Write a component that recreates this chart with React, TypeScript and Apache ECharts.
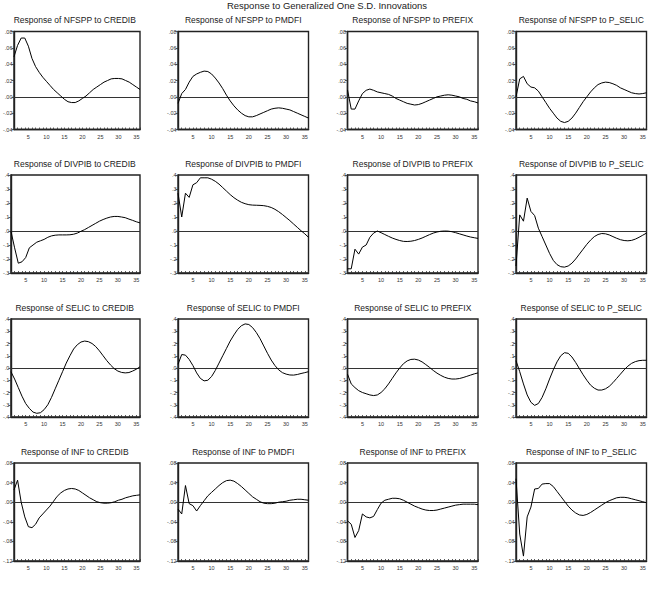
import React, { useEffect, useRef } from "react";
import * as echarts from "echarts";

const periods: number[] = Array.from({ length: 36 }, (_, i) => i + 1);

const responseVars = ["NFSPP", "DIVPIB", "SELIC", "INF"];
const shockVars = ["CREDIB", "PMDFI", "PREFIX", "P_SELIC"];

const mainTitle = "Response to Generalized One S.D. Innovations";

// y-axis ranges per response variable
const yMin = [-0.04, -0.3, -0.4, -0.12];
const yMax = [0.08, 0.4, 0.4, 0.08];
const yStep = [0.02, 0.1, 0.1, 0.04];
const yDecimals = [2, 1, 1, 2];

// Row 1: NFSPP
const nfsppCredib = [0.049, 0.063, 0.072, 0.072, 0.062, 0.047, 0.037, 0.030, 0.024, 0.019, 0.014, 0.009, 0.005, 0.001, -0.003, -0.006, -0.007, -0.007, -0.005, -0.002, 0.001, 0.005, 0.009, 0.012, 0.015, 0.018, 0.020, 0.022, 0.0225, 0.0225, 0.022, 0.020, 0.018, 0.015, 0.012, 0.009];
const nfsppPmdfi = [-0.008, 0.004, 0.009, 0.018, 0.025, 0.028, 0.030, 0.0315, 0.031, 0.028, 0.023, 0.017, 0.010, 0.002, -0.005, -0.011, -0.016, -0.020, -0.023, -0.0245, -0.0245, -0.023, -0.021, -0.019, -0.017, -0.015, -0.014, -0.0135, -0.014, -0.015, -0.016, -0.018, -0.020, -0.022, -0.024, -0.026];
const nfsppPrefix = [0.0085, -0.015, -0.015, -0.005, 0.004, 0.008, 0.0095, 0.008, 0.006, 0.005, 0.004, 0.003, 0.001, -0.002, -0.004, -0.006, -0.008, -0.009, -0.010, -0.0095, -0.008, -0.006, -0.004, -0.002, 0.0, 0.001, 0.002, 0.0025, 0.002, 0.001, 0.0, -0.002, -0.003, -0.005, -0.006, -0.0075];
const nfsppPselic = [0.0, 0.022, 0.025, 0.016, 0.012, 0.011, 0.007, 0.0, -0.007, -0.014, -0.020, -0.026, -0.030, -0.0315, -0.030, -0.026, -0.020, -0.013, -0.006, 0.0, 0.006, 0.011, 0.015, 0.017, 0.018, 0.0175, 0.016, 0.014, 0.011, 0.009, 0.007, 0.005, 0.004, 0.0035, 0.004, 0.005];

// Row 2: DIVPIB
const divpibCredib = [0.0, -0.12, -0.23, -0.22, -0.19, -0.12, -0.10, -0.08, -0.07, -0.06, -0.045, -0.035, -0.03, -0.028, -0.028, -0.028, -0.027, -0.023, -0.015, -0.002, 0.01, 0.025, 0.04, 0.055, 0.07, 0.082, 0.092, 0.1, 0.104, 0.104, 0.1, 0.095, 0.085, 0.076, 0.066, 0.058];
const divpibPmdfi = [0.27, 0.10, 0.27, 0.24, 0.33, 0.345, 0.38, 0.38, 0.38, 0.37, 0.355, 0.335, 0.31, 0.285, 0.26, 0.238, 0.22, 0.205, 0.195, 0.188, 0.185, 0.184, 0.183, 0.181, 0.176, 0.168, 0.155, 0.138, 0.118, 0.096, 0.074, 0.05, 0.026, 0.002, -0.02, -0.045];
const divpibPrefix = [-0.27, -0.27, -0.13, -0.165, -0.115, -0.10, -0.045, -0.015, 0.0, -0.012, -0.025, -0.038, -0.05, -0.06, -0.068, -0.074, -0.075, -0.073, -0.068, -0.06, -0.05, -0.038, -0.026, -0.015, -0.007, -0.002, 0.0, -0.001, -0.005, -0.012, -0.02, -0.028, -0.036, -0.043, -0.048, -0.053];
const divpibPselic = [-0.25, 0.115, 0.07, 0.235, 0.14, 0.11, 0.02, -0.04, -0.10, -0.16, -0.21, -0.24, -0.255, -0.258, -0.25, -0.23, -0.20, -0.165, -0.13, -0.095, -0.065, -0.04, -0.025, -0.018, -0.02, -0.028, -0.04, -0.052, -0.062, -0.068, -0.07, -0.067, -0.058, -0.045, -0.03, -0.015];

// Row 3: SELIC
const selicCredib = [-0.03, -0.09, -0.16, -0.23, -0.29, -0.33, -0.36, -0.37, -0.365, -0.34, -0.30, -0.24, -0.17, -0.10, -0.03, 0.04, 0.10, 0.155, 0.19, 0.212, 0.22, 0.215, 0.2, 0.175, 0.14, 0.1, 0.06, 0.025, -0.005, -0.025, -0.036, -0.04, -0.037, -0.025, -0.01, 0.01];
const selicPmdfi = [0.03, 0.11, 0.105, 0.07, 0.02, -0.04, -0.085, -0.105, -0.1, -0.07, -0.02, 0.04, 0.1, 0.16, 0.22, 0.27, 0.315, 0.345, 0.36, 0.355, 0.33, 0.29, 0.24, 0.18, 0.12, 0.065, 0.02, -0.015, -0.038, -0.05, -0.057, -0.058, -0.053, -0.045, -0.038, -0.03];
const selicPrefix = [-0.05, -0.13, -0.16, -0.185, -0.2, -0.21, -0.22, -0.225, -0.22, -0.2, -0.17, -0.13, -0.085, -0.04, 0.0, 0.035, 0.058, 0.07, 0.072, 0.065, 0.05, 0.028, 0.005, -0.02, -0.042, -0.06, -0.075, -0.085, -0.09, -0.09, -0.086, -0.078, -0.068, -0.058, -0.048, -0.04];
const selicPselic = [0.06, -0.03, -0.13, -0.22, -0.28, -0.305, -0.29, -0.24, -0.17, -0.09, -0.015, 0.05, 0.1, 0.125, 0.12, 0.09, 0.045, -0.005, -0.055, -0.1, -0.14, -0.165, -0.18, -0.18, -0.17, -0.15, -0.12, -0.085, -0.05, -0.015, 0.015, 0.038, 0.052, 0.06, 0.063, 0.063];

// Row 4: INF
const infCredib = [0.025, 0.045, 0.0, -0.03, -0.05, -0.052, -0.045, -0.032, -0.024, -0.016, -0.008, 0.002, 0.012, 0.019, 0.024, 0.027, 0.028, 0.027, 0.024, 0.019, 0.014, 0.009, 0.005, 0.001, -0.001, -0.002, -0.002, -0.001, 0.001, 0.004, 0.006, 0.009, 0.011, 0.013, 0.014, 0.015];
const infPmdfi = [-0.014, -0.024, 0.034, -0.003, -0.007, -0.018, -0.007, 0.003, 0.013, 0.02, 0.027, 0.034, 0.04, 0.044, 0.045, 0.043, 0.038, 0.032, 0.025, 0.018, 0.011, 0.006, 0.001, -0.002, -0.003, -0.003, -0.002, 0.0, 0.001, 0.002, 0.004, 0.005, 0.006, 0.006, 0.005, 0.004];
const infPrefix = [-0.038, -0.045, -0.072, -0.058, -0.024, -0.03, -0.032, -0.029, -0.015, -0.002, 0.004, 0.006, 0.008, 0.008, 0.007, 0.004, 0.0, -0.004, -0.008, -0.011, -0.014, -0.016, -0.017, -0.017, -0.016, -0.014, -0.012, -0.01, -0.008, -0.006, -0.005, -0.004, -0.004, -0.004, -0.004, -0.005];
const infPselic = [0.048, -0.065, -0.11, -0.03, -0.01, 0.027, 0.028, 0.037, 0.038, 0.038, 0.032, 0.022, 0.012, 0.002, -0.008, -0.016, -0.022, -0.026, -0.027, -0.025, -0.021, -0.016, -0.011, -0.006, -0.001, 0.003, 0.006, 0.009, 0.01, 0.01, 0.009, 0.007, 0.005, 0.003, 0.001, -0.001];

const panels: number[][][] = [
  [nfsppCredib, nfsppPmdfi, nfsppPrefix, nfsppPselic],
  [divpibCredib, divpibPmdfi, divpibPrefix, divpibPselic],
  [selicCredib, selicPmdfi, selicPrefix, selicPselic],
  [infCredib, infPmdfi, infPrefix, infPselic],
];

// layout
const colLeft = [9.5, 178, 347.5, 516];
const rowTop = [31.5, 175, 319, 463];
const boxW = 130.5;
const boxH = 98;

const FONT = "Liberation Sans, Arial, sans-serif";

function fmtY(v: number, d: number): string {
  const a = Math.abs(v).toFixed(d).replace(/^0/, "");
  return (v < -1e-9 ? "-" : "") + a;
}

export default function App() {
  const ref = useRef<HTMLDivElement>(null);
  useEffect(() => {
    if (!ref.current) return;
    const chart = echarts.init(ref.current, undefined, { renderer: "svg" });
    const grids: any[] = [];
    const xAxes: any[] = [];
    const yAxes: any[] = [];
    const series: any[] = [];
    const titles: any[] = [
      {
        text: mainTitle,
        left: 327,
        top: 0,
        padding: 0,
        textAlign: "center",
        textStyle: { fontFamily: FONT, fontSize: 9.5, fontWeight: "normal", color: "#222" },
      },
    ];
    let idx = 0;
    for (let r = 0; r < 4; r++) {
      for (let c = 0; c < 4; c++) {
        grids.push({
          left: colLeft[c],
          top: rowTop[r],
          width: boxW,
          height: boxH,
          show: true,
          borderColor: "#222",
          borderWidth: 1.4,
          backgroundColor: "#fff",
        });
        xAxes.push({
          type: "value",
          gridIndex: idx,
          min: 1,
          max: 36,
          interval: 1,
          axisLine: { show: true, onZero: false, lineStyle: { color: "#222", width: 1.4 } },
          axisTick: { show: true, inside: true, length: 2, lineStyle: { color: "#333", width: 0.8 } },
          axisLabel: {
            show: true,
            fontSize: 5.5,
            fontFamily: FONT,
            color: "#333",
            margin: 4,
            formatter: (v: number) => (Math.round(v) % 5 === 0 ? String(Math.round(v)) : ""),
          },
          splitLine: { show: false },
        });
        const d = yDecimals[r];
        yAxes.push({
          type: "value",
          gridIndex: idx,
          min: yMin[r],
          max: yMax[r],
          interval: yStep[r],
          axisLine: { show: true, onZero: false, lineStyle: { color: "#222", width: 1.4 } },
          axisTick: { show: true, inside: false, length: 2.5, lineStyle: { color: "#333", width: 0.8 } },
          axisLabel: {
            show: true,
            fontSize: 5.5,
            fontFamily: FONT,
            color: "#333",
            margin: 1.5,
            formatter: (v: number) => fmtY(v, d),
          },
          splitLine: { show: false },
        });
        titles.push({
          text: `Response of ${responseVars[r]} to ${shockVars[c]}`,
          left: colLeft[c] + boxW / 2,
          top: rowTop[r] - 16,
          padding: 0,
          textAlign: "center",
          textStyle: { fontFamily: FONT, fontSize: 8.5, fontWeight: "normal", color: "#222" },
        });
        const vals = panels[r][c];
        series.push({
          type: "line",
          xAxisIndex: idx,
          yAxisIndex: idx,
          data: periods.map((p, i) => [p, vals[i]]),
          showSymbol: false,
          symbol: "none",
          lineStyle: { color: "#000", width: 1 },
          silent: true,
          z: 3,
          markLine: {
            silent: true,
            symbol: "none",
            label: { show: false },
            lineStyle: { color: "#333", width: 1, type: "solid" },
            data: [{ yAxis: 0 }],
            z: 2,
          },
        });
        idx++;
      }
    }
    chart.setOption({
      animation: false,
      backgroundColor: "#fff",
      title: titles,
      grid: grids,
      xAxis: xAxes,
      yAxis: yAxes,
      series,
    });
    return () => chart.dispose();
  }, []);
  return (
    <div
      ref={ref}
      style={{ position: "absolute", left: 0, top: 0, width: 654, height: 590, background: "#fff" }}
    />
  );
}
